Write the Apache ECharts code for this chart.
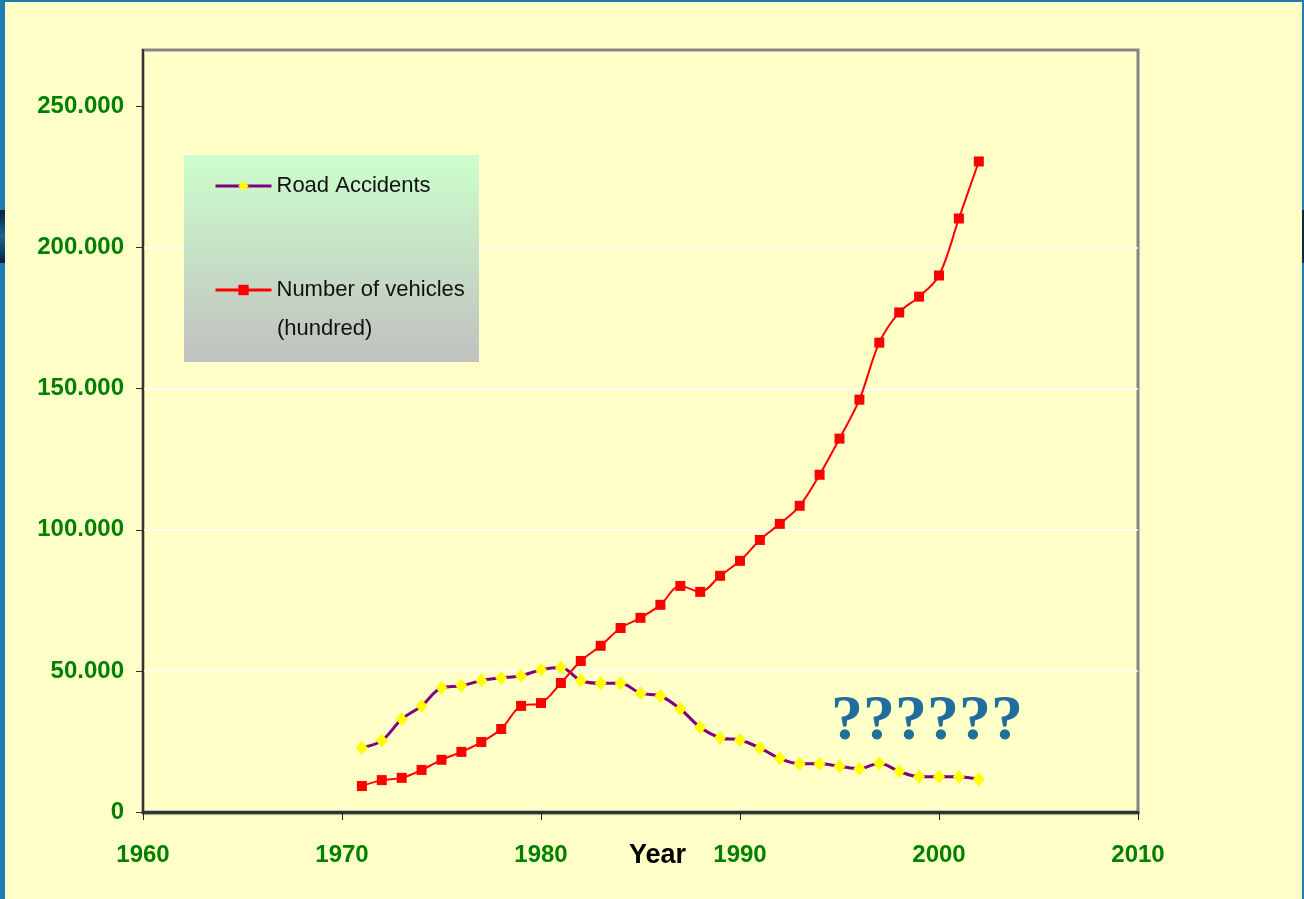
<!DOCTYPE html>
<html>
<head>
<meta charset="utf-8">
<title>Road Accidents vs Number of vehicles</title>
<script src="https://cdn.jsdelivr.net/npm/echarts@6/dist/echarts.min.js"></script>
<style>
  html, body { margin: 0; padding: 0; background: #ffffc8; }
  #chart { width: 1304px; height: 899px; }
</style>
</head>
<body>
<div id="chart"></div>
<script>
// 年份 1971 - 2002
const YEARS = [
  1971, 1972, 1973, 1974, 1975, 1976, 1977, 1978, 1979, 1980, 1981,
  1982, 1983, 1984, 1985, 1986, 1987, 1988, 1989, 1990, 1991, 1992,
  1993, 1994, 1995, 1996, 1997, 1998, 1999, 2000, 2001, 2002,
];
const ROAD_ACCIDENTS = [
  22800, 25300, 32900, 37600, 44000, 44700, 46600, 47500, 48300, 50400, 51200,
  46600, 45600, 45600, 42100, 41100, 36500, 30000, 26300, 25500, 22700, 19000,
  17100, 17100, 16200, 15300, 17300, 14400, 12500, 12500, 12500, 11600,
];
const VEHICLES = [
  9200, 11300, 12100, 14900, 18500, 21300, 24800, 29400, 37600, 38600, 45700,
  53500, 58900, 65200, 68800, 73400, 80100, 78000, 83700, 89000, 96400, 102100,
  108500, 119500, 132300, 146100, 166300, 177000, 182600, 190100, 210300, 230500,
];
const Y_TICKS = [0, 50000, 100000, 150000, 200000, 250000];
const X_TICKS = [1960, 1970, 1980, 1990, 2000, 2010];

const GREEN = "#008000";
const LABEL_FONT = "'Liberation Sans', Arial, sans-serif";

function fmtThousands(v) {
  if (v === 0) return "0";
  return String(v).replace(/\B(?=(\d{3})+(?!\d))/g, ".");
}

function pairs(xs, ys) {
  return xs.map((x, i) => [x, ys[i]]);
}

const chart = echarts.init(document.getElementById("chart"));

const option = {
  backgroundColor: "#ffffc8",
  animation: false,
  grid: {
    left: 143,
    right: 166,
    top: 50,
    bottom: 87,
    outerBoundsMode: "none",
    containLabel: false,
    show: true,
    borderColor: "#858585",
    borderWidth: 3,
    backgroundColor: "transparent",
  },
  xAxis: {
    type: "value",
    min: 1960,
    max: 2010,
    interval: 10,
    name: "Year",
    nameLocation: "middle",
    nameGap: 30,
    nameMoveOverlap: false,
    nameTextStyle: {
      fontFamily: LABEL_FONT,
      fontWeight: "bold",
      fontSize: 27,
      color: "#000",
      padding: [0, 0, 0, 34],
      verticalAlign: "top",
    },
    axisLine: {
      lineStyle: { color: "#333", width: 3, shadowColor: "rgba(0,0,0,0.35)", shadowOffsetY: 1, shadowBlur: 1 },
    },
    axisTick: { show: true, length: 8, lineStyle: { color: "#222", width: 1 } },
    axisLabel: {
      margin: 31,
      color: GREEN,
      fontFamily: LABEL_FONT,
      fontWeight: "bold",
      fontSize: 24,
      customValues: X_TICKS,
      formatter: (v) => String(v),
    },
    splitLine: { show: false },
  },
  yAxis: {
    type: "value",
    min: 0,
    max: 270000,
    interval: 50000,
    axisLine: { show: true, lineStyle: { color: "#333", width: 2 } },
    axisTick: { show: true, length: 7, lineStyle: { color: "#333" }, customValues: Y_TICKS },
    axisLabel: {
      margin: 19,
      color: GREEN,
      fontFamily: LABEL_FONT,
      fontWeight: "bold",
      fontSize: 24,
      customValues: Y_TICKS,
      formatter: fmtThousands,
    },
    splitLine: {
      show: true,
      showMinLine: false,
      showMaxLine: false,
      lineStyle: { color: "#ffffff", width: 1.5 },
    },
  },
  legend: [
    {
      data: ["Road Accidents"],
      orient: "vertical",
      left: 214,
      top: 175,
      padding: 0,
      itemWidth: 56,
      itemHeight: 13,
      lineStyle: { width: 3 },
      z: 5,
      textStyle: { fontFamily: LABEL_FONT, fontSize: 22, color: "#111" },
    },
    {
      data: ["Number of vehicles"],
      orient: "vertical",
      left: 214,
      top: 279,
      padding: 0,
      itemWidth: 56,
      itemHeight: 13,
      lineStyle: { width: 3 },
      z: 5,
      textStyle: { fontFamily: LABEL_FONT, fontSize: 22, color: "#111" },
    },
  ],
  graphic: [
    // 左右两侧的蓝色边框
    { type: "rect", left: 0, top: 0, shape: { width: 5, height: 899 }, style: { fill: "#1f7db4" }, z: 10 },
    { type: "rect", left: 0, top: 0, shape: { width: 1304, height: 2 }, style: { fill: "#1f7db4" }, z: 10 },
    { type: "rect", left: 1302, top: 0, shape: { width: 2, height: 899 }, style: { fill: "#1f7db4" }, z: 10 },
    {
      type: "rect",
      left: 0,
      top: 210,
      shape: { width: 5, height: 53 },
      style: {
        fill: new echarts.graphic.LinearGradient(0, 0, 0, 1, [
          { offset: 0, color: "#06203a" },
          { offset: 0.5, color: "#1b6796" },
          { offset: 1, color: "#06203a" },
        ]),
      },
      z: 11,
    },
    {
      type: "rect",
      left: 1302,
      top: 210,
      shape: { width: 2, height: 53 },
      style: { fill: "#0b2a40" },
      z: 11,
    },
    // 图例背景
    {
      type: "rect",
      left: 184,
      top: 155,
      shape: { width: 295, height: 207 },
      style: {
        fill: new echarts.graphic.LinearGradient(0, 0, 0, 1, [
          { offset: 0, color: "#ccffcc" },
          { offset: 1, color: "#c0c0c0" },
        ]),
      },
      z: 3,
    },
    {
      type: "text",
      left: 277,
      top: 318,
      z: 6,
      style: { text: "(hundred)", fontFamily: LABEL_FONT, fontSize: 22, fill: "#111" },
    },
    {
      type: "text",
      left: 831,
      top: 690,
      z: 6,
      style: {
        text: "??????",
        fontFamily: "'Liberation Serif', 'Times New Roman', serif",
        fontWeight: "bold",
        fontSize: 64,
        fill: "#1f6e9c",
      },
    },
  ],
  series: [
    {
      name: "Road Accidents",
      type: "line",
      data: pairs(YEARS, ROAD_ACCIDENTS),
      smooth: 0.35,
      symbol: "diamond",
      symbolSize: [12, 14],
      showAllSymbol: true,
      lineStyle: { color: "#800080", width: 3 },
      itemStyle: { color: "#ffff00", borderWidth: 0 },
      z: 3,
    },
    {
      name: "Number of vehicles",
      type: "line",
      data: pairs(YEARS, VEHICLES),
      smooth: 0.35,
      symbol: "rect",
      symbolSize: 10,
      showAllSymbol: true,
      lineStyle: { color: "#ff0000", width: 2 },
      itemStyle: { color: "#ff0000", borderWidth: 0 },
      z: 4,
    },
  ],
};

chart.setOption(option);
</script>
</body>
</html>
